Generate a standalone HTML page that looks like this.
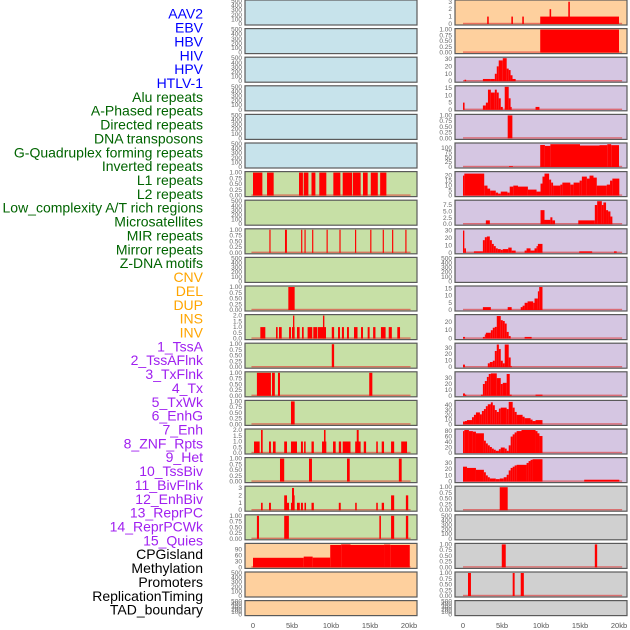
<!DOCTYPE html>
<html><head><meta charset="utf-8"><style>
html,body{margin:0;padding:0;background:#fff;}
svg{display:block;font-family:"Liberation Sans",sans-serif;}
</style></head><body>
<svg id="chart" width="630" height="630" viewBox="0 0 630 630" xmlns="http://www.w3.org/2000/svg">
<g id="labels"></g>
<g id="panels"></g>
<g id="xaxis"></g>
</svg>
<script>
// ---- category labels ----
const labelNames = ["AAV2","EBV","HBV","HIV","HPV","HTLV-1","Alu repeats","A-Phased repeats","Directed repeats","DNA transposons","G-Quadruplex forming repeats","Inverted repeats","L1 repeats","L2 repeats","Low_complexity A/T rich regions","Microsatellites","MIR repeats","Mirror repeats","Z-DNA motifs","CNV","DEL","DUP","INS","INV","1_TssA","2_TssAFlnk","3_TxFlnk","4_Tx","5_TxWk","6_EnhG","7_Enh","8_ZNF_Rpts","9_Het","10_TssBiv","11_BivFlnk","12_EnhBiv","13_ReprPC","14_ReprPCWk","15_Quies","CPGisland","Methylation","Promoters","ReplicationTiming","TAD_boundary"];
const labelGroups = [6,13,5,15,5];
const groupColors = ["#0000ff","#006400","#ffa500","#a020f0","#000000"];
// ---- x axis ----
const xTicks = [0,5,10,15,20];
const xTickLabels = ["0","5kb","10kb","15kb","20kb"];
// ---- panel backgrounds (row order) ----
const leftBg = ["b","b","b","b","b","b","g","g","g","g","g","g","g","g","g","g","g","g","g","o","o","o"];
const rightBg = ["o","o","p","p","p","p","p","p","p","p","p","p","p","p","p","p","p","y","y","y","y","y"];
// ---- left column series: [startKb, endKb, value] ----
const L07 = [[0,1.2,1],[1.8,2.65,1],[5.9,6.4,1],[6.5,7.1,1],[7.5,8.0,1],[8.5,9.4,1],[10.3,11.2,1],[11.5,12.7,1],[12.8,13.8,1],[14.1,14.7,1],[15.1,16.0,1],[16.3,17.1,1]];
const L09 = [[2.1,2.25,1],[4.1,4.35,1],[6.17,6.32,1],[6.6,6.75,1],[7.58,7.73,1],[9.43,9.58,1],[11.08,11.23,1],[13.08,13.23,1],[15.03,15.18,1],[16.63,16.78,1],[17.83,17.98,1],[19.53,19.68,1]];
const L11 = [[4.53,5.34,1]];
const L12 = [[0.94,1.58,1],[2.95,3.16,1],[3.33,3.68,1],[4.62,4.87,1],[5.0,5.34,1],[5.13,5.3,2],[5.64,5.98,1],[6.28,6.5,1],[7.0,7.6,1],[7.73,8.25,1],[8.33,9.36,1],[8.97,9.15,2],[10.1,10.4,1],[10.9,11.15,1],[11.4,11.66,1],[12.05,12.3,1],[12.95,13.4,1],[13.85,14.1,1],[14.7,14.95,1],[15.4,15.7,1],[16.4,17.0,1],[17.4,17.8,1],[18.5,18.85,1]];
const L13 = [[10.1,10.4,1]];
const L14 = [[0.5,2.3,1],[2.44,2.8,1],[3.2,3.46,1],[14.9,15.3,1]];
const L15 = [[4.87,5.34,1]];
const L16 = [[0.13,0.85,1],[1.03,1.24,2],[2.05,2.3,1],[2.56,2.9,1],[4.0,4.36,1],[4.87,5.64,1],[6.15,6.4,1],[6.55,6.75,1],[7.5,7.8,1],[8.85,9.4,1],[9.1,9.3,2],[10.26,10.6,1],[11.0,11.3,1],[11.5,12.5,1],[13.1,13.8,1],[13.3,13.55,2],[14.2,14.5,1],[15.8,16.0,1],[16.5,16.8,1],[17.7,18.1,1],[19.0,19.75,1]];
const L17 = [[3.46,4.0,1],[7.18,7.56,1],[12.05,12.4,1],[18.7,19.06,1]];
const L18 = [[1.03,1.24,1],[2.05,2.3,1],[4.0,4.36,2],[4.36,4.62,1],[4.87,5.0,1],[5.0,5.26,3],[5.2,5.34,2],[5.64,6.0,1],[6.15,6.4,1],[6.6,6.8,1],[7.5,7.8,1],[11.0,11.25,1],[13.1,13.3,1],[15.8,16.0,1],[16.5,16.8,1],[17.7,18.1,2],[19.6,19.9,2]];
const L19 = [[0.5,0.77,1],[4.0,4.6,1],[16.2,16.4,1],[17.7,18.1,1],[19.6,19.9,1]];
const L20 = [[0,6.5,48],[6.5,7.65,54],[7.65,9.9,49],[9.9,11.3,112],[11.3,12.5,115],[12.5,16.8,112],[16.8,17.6,114],[17.6,20.1,112]];
// ---- right column series ----
const R01 = [[0,9.9,0],[3.1,3.3,1],[6.2,6.4,1],[7.6,7.8,1],[9.9,20,1],[11.1,11.3,2],[13.5,13.7,3]];
const R02 = [[9.9,20,1]];
const R03 = [[0.2,0.4,2],[2.55,3.57,3],[3.57,4.08,3],[4.08,4.33,10],[4.33,4.58,20],[4.58,5.1,28],[5.1,5.6,31],[5.6,5.86,17],[5.86,6.1,15],[6.1,6.35,8],[6.35,6.75,3]];
const R04 = [[0,0.2,5],[2.55,2.93,3],[2.93,3.2,5],[3.2,3.57,14],[3.57,4.08,12],[4.08,4.33,14],[4.33,4.58,12],[4.58,4.84,8],[4.84,5.1,2],[5.35,5.86,16],[5.86,6.1,8],[6.1,6.24,2],[9.3,9.8,2]];
const R05 = [[5.73,6.33,1]];
const R06 = [[5.9,6.4,4],[9.9,10.5,115],[10.5,11.2,110],[11.2,15,119],[15,17.5,112],[17.5,18.5,114],[18.5,19,119],[19,20,114]];
const R07 = [[0,0.17,20],[0.17,2.72,22],[2.72,3.14,10],[3.14,3.48,7],[3.48,4.2,5],[4.2,4.5,3],[4.5,4.84,2],[4.84,5.69,4],[5.69,5.99,3],[5.99,6.45,9],[6.45,7.05,10],[7.05,8.32,9],[8.32,9.43,6],[9.43,9.94,4],[9.94,10.19,12],[10.19,10.45,19],[10.45,11.04,22],[11.04,11.3,16],[11.3,11.55,13],[11.55,12.48,10],[12.48,12.74,11],[12.74,13.76,13],[13.76,14.18,11],[14.18,14.95,13],[14.95,15.24,15],[15.24,15.88,19],[15.88,16.22,17],[16.22,16.73,20],[16.73,17.15,18],[17.15,18.43,10],[18.43,18.85,11],[18.85,19.15,15],[19.15,20.04,17]];
const R08 = [[2.93,3.44,1.5],[9.94,10.45,5.5],[10.45,11.2,1.7],[11.2,11.46,2.7],[11.46,11.8,1.5],[14.78,16.9,1.5],[16.9,17.2,7.5],[17.2,17.8,9],[17.8,18.0,7.5],[18.0,18.34,8.5],[18.34,18.6,5.5],[18.6,18.9,5],[18.9,19.15,3]];
const R09 = [[0,0.17,30],[0.17,0.38,6],[1.4,2.55,2],[2.55,2.8,17],[2.8,3.06,21],[3.06,3.44,22],[3.44,3.7,17],[3.7,3.95,12],[3.95,4.2,9],[4.2,4.46,6],[4.46,4.84,5],[4.84,5.1,4],[5.1,5.8,5],[5.8,6.24,7],[6.24,6.75,3],[7.9,8.15,3],[8.15,8.66,6],[8.66,9.17,3],[9.17,9.43,6],[9.43,9.6,9],[9.6,10.19,12],[14.9,16.56,2],[19.36,19.7,2]];
const R11 = [[2.55,3.57,2],[5.73,6.24,2],[7.4,7.64,2],[7.64,7.9,3],[7.9,8.28,5],[8.28,9.0,6],[9.0,9.17,5],[9.17,9.6,8],[9.6,9.77,13],[9.77,10.19,16]];
const R12 = [[0,0.25,2],[2.55,2.8,2],[2.8,2.93,5],[2.93,3.57,7],[3.57,3.82,10],[3.82,4.08,13],[4.08,4.33,14],[4.33,4.84,27],[4.84,5.1,22],[5.1,5.35,21],[5.35,5.6,18],[5.6,5.86,8],[5.86,6.11,3],[7.9,8.8,2]];
const R13 = [[0,0.25,4],[3.18,3.44,6],[3.44,3.82,8],[3.82,4.08,10],[4.08,4.33,25],[4.33,4.6,35],[4.6,4.84,28],[4.84,5.1,10],[5.1,5.35,6],[5.35,5.86,35],[5.86,6.11,15],[6.11,6.24,2]];
const R14 = [[0,0.25,4],[0.25,0.42,2],[2.3,2.55,2],[2.55,2.8,20],[2.8,3.06,25],[3.06,3.3,32],[3.3,3.57,37],[3.57,4.33,38],[4.33,4.84,30],[4.84,5.1,20],[5.1,5.6,22],[5.6,5.99,37],[5.99,6.24,2],[9.3,10.19,2]];
const R15 = [[0,0.25,6],[0.25,0.51,7],[0.51,1.15,9],[1.15,1.4,15],[1.4,1.66,20],[1.66,2.17,25],[2.17,2.42,21],[2.42,2.68,28],[2.68,2.93,32],[2.93,3.18,38],[3.18,3.57,42],[3.57,3.82,46],[3.82,4.08,40],[4.08,4.33,30],[4.33,4.6,26],[4.6,4.84,33],[4.84,5.6,35],[5.6,5.86,32],[5.86,6.37,47],[6.37,6.62,35],[6.62,6.88,26],[6.88,7.64,20],[7.64,7.9,16],[7.9,8.66,13],[8.66,8.92,10],[8.92,9.3,7],[9.3,10.19,9]];
const R16 = [[0,0.17,80],[0.17,0.76,84],[0.76,1.27,80],[1.27,1.66,78],[1.66,2.68,72],[2.68,2.93,45],[2.93,3.18,35],[3.18,3.44,28],[3.44,3.7,22],[3.7,3.95,16],[3.95,4.2,12],[4.2,4.6,8],[4.6,4.84,14],[4.84,5.35,20],[5.35,5.6,16],[5.6,5.86,8],[5.86,6.11,28],[6.11,6.37,60],[6.37,6.62,68],[6.62,6.88,75],[6.88,7.5,80],[7.5,9.3,84],[9.3,9.55,80],[9.55,9.8,72],[9.8,10.19,62]];
const R17 = [[0,0.51,24],[0.51,1.66,22],[1.66,2.68,19],[2.68,2.93,15],[2.93,3.18,10],[3.18,3.44,7],[3.44,4.2,5],[4.2,4.71,4],[4.71,5.22,5],[5.22,5.6,7],[5.6,5.86,11],[5.86,6.11,18],[6.11,6.37,22],[6.37,6.62,24],[6.62,6.88,26],[6.88,8.15,27],[8.15,8.41,30],[8.41,8.66,33],[8.66,8.92,35],[8.92,10.19,36],[15.54,20.04,3]];
const R18 = [[4.71,5.73,1]];
const R20 = [[4.97,5.48,1],[16.9,17.2,1]];
const R21 = [[0.64,1.02,1],[6.37,6.62,1],[7.4,7.8,1]];
// ---- y ranges and ticks ----
const tQ = [0,0.25,0.5,0.75,1];
const tE = [0,100,200,300,400,500];
const leftSeries = [null,null,null,null,null,null,L07,null,L09,null,L11,L12,L13,L14,L15,L16,L17,L18,L19,L20,null,null];
const leftMax =   [500,500,500,500,500,500,1,500,1,500,1,2,1,1,1,2,1,3.1,1,115,500,500];
const leftTicks = [tE,tE,tE,tE,tE,tE,tQ,tE,tQ,tE,tQ,[0,0.5,1,1.5,2],tQ,tQ,tQ,[0,0.5,1,1.5,2],tQ,[0,1,2,3],tQ,[0,30,60,90],tE,tE];
const rightSeries = [R01,R02,R03,R04,R05,R06,R07,R08,R09,null,R11,R12,R13,R14,R15,R16,R17,R18,null,R20,R21,null];
const rightMax = [3.1,1,31,16,1,120,23,9,31,500,16,27.5,35.5,39,48,84,37,1,500,1,1,500];
const rightTicks = [[0,1,2,3],tQ,[0,10,20,30],[0,5,10,15],tQ,[0,25,50,75,100],[0,5,10,15,20],[0,2.5,5,7.5],[0,10,20,30],tE,[0,5,10,15],[0,10,20],[0,10,20,30],[0,10,20,30],[0,10,20,30,40],[0,20,40,60,80],[0,10,20,30],tQ,tE,tQ,tQ,tE];

const NS = "http://www.w3.org/2000/svg";
const bgColors = {b:"#c7e3eb",g:"#c7e0a6",o:"#fed09e",p:"#d5c6e2",y:"#d0d0d0"};
function mk(tag, attrs, parent){const e=document.createElementNS(NS,tag);for(const k in attrs)e.setAttribute(k,attrs[k]);parent.appendChild(e);return e;}

// labels
const lg = document.getElementById("labels");
let idx=0;
labelGroups.forEach((n,gi)=>{for(let j=0;j<n;j++){const t=mk("text",{x:203,y:15+idx*13.86,"text-anchor":"end","dominant-baseline":"middle","font-size":"14",fill:groupColors[gi]},lg);


t.textContent=labelNames[idx];idx++;}});

const pg = document.getElementById("panels");
const cols=[{x:245,w:172,x0:253,bg:leftBg,ser:leftSeries,mx:leftMax,tk:leftTicks,name:"left"},{x:455,w:172,x0:463,bg:rightBg,ser:rightSeries,mx:rightMax,tk:rightTicks,name:"right"}];
const KB=7.8;
function fmt(v,ticks){const m=Math.max(...ticks);if(m<=1)return v.toFixed(2);if(ticks.some(t=>t%1!==0))return v.toFixed(1);return String(v);}
cols.forEach(c=>{
  for(let r=0;r<22;r++){
    const top=r*28.6, h=(r===21)?15:25;
    const g=mk("g",{},pg);
    
    
    mk("rect",{x:c.x,y:top,width:c.w,height:h,fill:bgColors[c.bg[r]],stroke:"#5a5a5a","stroke-width":1.2},g);
    const ymax=c.mx[r];
    const ys=v=>top+h-1-v/ymax*(h-2);
    const xs=kb=>c.x0+kb*KB;
    c.tk[r].forEach(tv=>{const t=mk("text",{x:c.x-3,y:ys(tv)+2,"text-anchor":"end","font-size":"6.5",fill:"#666"},g);
      
      
      t.textContent=fmt(tv,c.tk[r]);});
    const s=c.ser[r];
    if(s){
      const bl=mk("rect",{x:xs(c.name==="left"?-0.2:0),y:top+h-2.2,width:KB*20.4,height:1.4,fill:"#e03030",opacity:0.6},g);
      
      
      s.forEach(d=>{if(d[2]<=0)return;const b=mk("rect",{x:xs(d[0]),y:ys(d[2]),width:Math.max(0.8,xs(d[1])-xs(d[0])),height:ys(0)-ys(d[2]),fill:"#ff0000"},g);
        
        });
    }
  }
  const xg=document.getElementById("xaxis");
  xTicks.forEach((v,i)=>{const t=mk("text",{x:c.x0+v*KB,y:628,"text-anchor":"middle","font-size":"7.5",fill:"#555"},xg);
    
    
    t.textContent=xTickLabels[i];});
});
</script>
</body></html>
